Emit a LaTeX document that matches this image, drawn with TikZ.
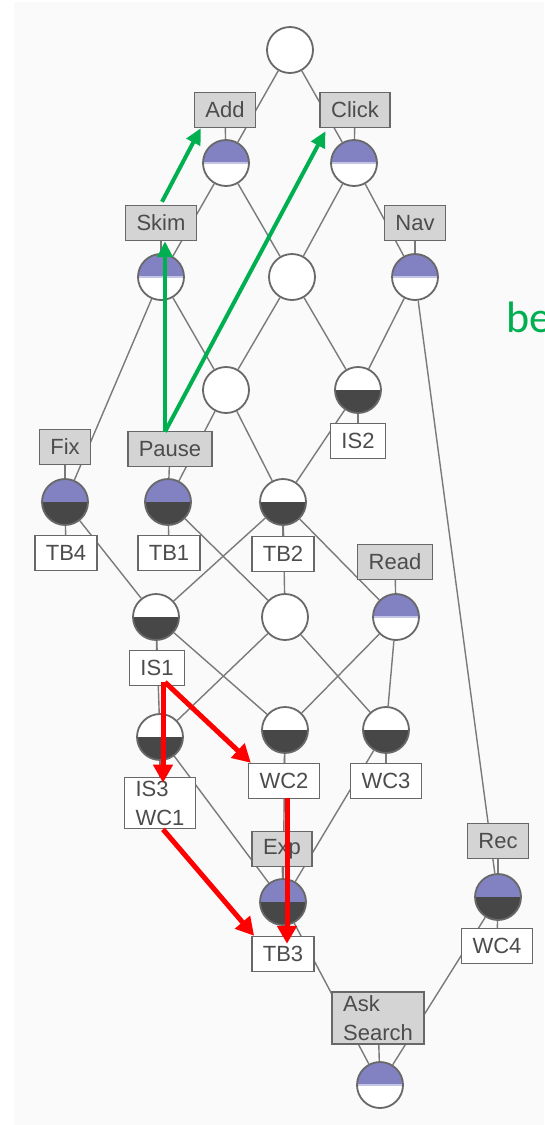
\documentclass[tikz,border=0pt]{standalone}
\usepackage{fontspec}
\usepackage{xcolor}
\usetikzlibrary{arrows.meta,calc,backgrounds}
\newfontfamily\latfont{Liberation Sans}
\newfontfamily\notefont{Carlito}

\definecolor{edgegray}{HTML}{7A7A7A}
\definecolor{rimgray}{HTML}{686868}
\definecolor{lav}{HTML}{8282C2}
\definecolor{lavline}{HTML}{C4C4E6}
\definecolor{dark}{HTML}{474747}
\definecolor{boxgray}{HTML}{D4D4D4}
\definecolor{txtgray}{HTML}{4C4C4C}
\definecolor{okgreen}{HTML}{00B050}

\begin{document}
\begin{tikzpicture}[x=1pt, y=-1pt,
  font=\latfont\fontsize{22}{29}\selectfont,
  concept/.style={circle, draw=rimgray, line width=1.8pt, fill=white,
    minimum size=46pt, inner sep=0pt},
  ww/.style={concept},
  bw/.style={concept, path picture={
    \fill[lav] (path picture bounding box.north west) rectangle (path picture bounding box.east);
    \draw[lavline, line width=1.5pt] (path picture bounding box.west) -- (path picture bounding box.east);}},
  wd/.style={concept, path picture={
    \fill[dark] (path picture bounding box.west) rectangle (path picture bounding box.south east);}},
  bd/.style={concept, path picture={
    \fill[lav] (path picture bounding box.north west) rectangle (path picture bounding box.east);
    \fill[dark] (path picture bounding box.west) rectangle (path picture bounding box.south east);}},
  attr/.style={draw=rimgray, line width=1.4pt, fill=boxgray, text=txtgray,
    inner xsep=11pt, minimum height=35pt},
  obj/.style={attr, fill=white},
  edge/.style={edgegray, line width=1.4pt},
  good/.style={okgreen, line width=4pt, -{Triangle[length=16pt,width=15pt]}},
  bad/.style={red, line width=5pt, -{Triangle[length=18pt,width=19pt]}},
]
\useasboundingbox (0,0) rectangle (544,1125);

% Concepts
\node[ww] (c0)     at (290,50)  {};
\node[bw] (cAdd)   at (226,163) {};
\node[bw] (cClick) at (354,163) {};
\node[bw] (cSkim)  at (161,277) {};
\node[ww] (c3)     at (292,277) {};
\node[bw] (cNav)   at (415,277) {};
\node[ww] (c4)     at (226,390) {};
\node[wd] (cIS2)   at (358,390) {};
\node[bd] (cFix)   at (65,502)  {};
\node[bd] (cPause) at (168,502) {};
\node[wd] (cTB2)   at (283,502) {};
\node[wd] (cIS1)   at (156,617) {};
\node[ww] (c6)     at (285,617) {};
\node[bw] (cRead)  at (396,617) {};
\node[wd] (cIS3)   at (160,737) {};
\node[wd] (cWC2)   at (285,730) {};
\node[wd] (cWC3)   at (386,730) {};
\node[bd] (cExp)   at (283,902) {};
\node[bd] (cRec)   at (498,897) {};
\node[bw] (cBot)   at (380,1085) {};

% Attribute labels
\node[attr] (Add)   at (225,110) {Add};
\node[attr] (Click) at (355,110) {Click};
\node[attr] (Skim)  at (161,223) {Skim};
\node[attr] (Nav)   at (415,223) {Nav};
\node[attr] (Fix)   at (65,447)  {Fix};
\node[attr] (Pause) at (170,449) {Pause};
\node[attr] (Read)  at (395,562) {Read};
\node[attr] (Exp)   at (282,849) {Exp};
\node[attr] (Rec)   at (498,841) {Rec};
\node[attr, align=left] (Ask) at (378,1018) {Ask\\Search};

% Object labels
\node[obj] (IS2) at (358,441) {IS2};
\node[obj] (TB4) at (66,553)  {TB4};
\node[obj] (TB1) at (169,553) {TB1};
\node[obj] (TB2) at (283,554) {TB2};
\node[obj] (IS1) at (157,668) {IS1};
\node[obj, align=left] (IS3) at (160,803) {IS3\\WC1};
\node[obj] (WC2) at (284,781) {WC2};
\node[obj] (WC3) at (386,781) {WC3};
\node[obj] (TB3) at (283,954) {TB3};
\node[obj] (WC4) at (497,946) {WC4};

\begin{scope}[on background layer]
  \fill[black!2] (14,2) rectangle (544,1125);
  % lattice edges
  \foreach \a/\b in {c0/cAdd, c0/cClick, cAdd/cSkim, cAdd/c3, cClick/c3,
      cClick/cNav, cSkim/cFix, cSkim/c4, c3/c4, c3/cIS2, cNav/cIS2,
      cNav/cRec, c4/cPause, c4/cTB2, cIS2/cTB2, cFix/cIS1, cPause/c6,
      cTB2/cIS1, cTB2/c6, cTB2/cRead, cIS1/cIS3, cIS1/cWC2, c6/cIS3,
      c6/cWC3, cRead/cWC2, cRead/cWC3, cIS3/cExp, cWC2/cExp, cWC3/cExp,
      cExp/cBot, cRec/cBot}
    \draw[edge] (\a) -- (\b);
  % label ticks
  \foreach \l/\c in {Add/cAdd, Click/cClick, Skim/cSkim, Nav/cNav,
      Fix/cFix, Pause/cPause, IS2/cIS2, TB4/cFix, TB1/cPause, TB2/cTB2,
      Read/cRead, IS1/cIS1, IS3/cIS3, WC2/cWC2, WC3/cWC3, Exp/cExp,
      Rec/cRec, TB3/cExp, WC4/cRec, Ask/cBot}
    \draw[edge] (\l) -- (\c);
\end{scope}

% green arrows
\draw[good] ($(Pause.north)+(-5,1)$) -- ($(Skim.south)+(4,0)$);
\draw[good] ($(Pause.north)+(-5,1)$) -- ($(Click.south west)+(6,3)$);
\draw[good] ($(Skim.north)+(1,-3)$) -- ($(Add.south west)+(7,0)$);

% red arrows
\draw[bad] ($(IS1.south)+(6,-4)$) -- ($(IS3.north)+(3,6)$);
\draw[bad] ($(IS1.south)+(8,-4)$) -- ($(WC2.north west)+(3,0)$);
\draw[bad] ($(IS3.south)+(3,0)$) -- ($(TB3.north west)+(3,0)$);
\draw[bad] ($(WC2.south)+(3,-1)$) -- ($(TB3.north)+(4,8)$);

\node[okgreen, font=\notefont\fontsize{44}{48}\selectfont, anchor=base west]
  (be) at (503,332) {be};
\end{tikzpicture}
\end{document}
